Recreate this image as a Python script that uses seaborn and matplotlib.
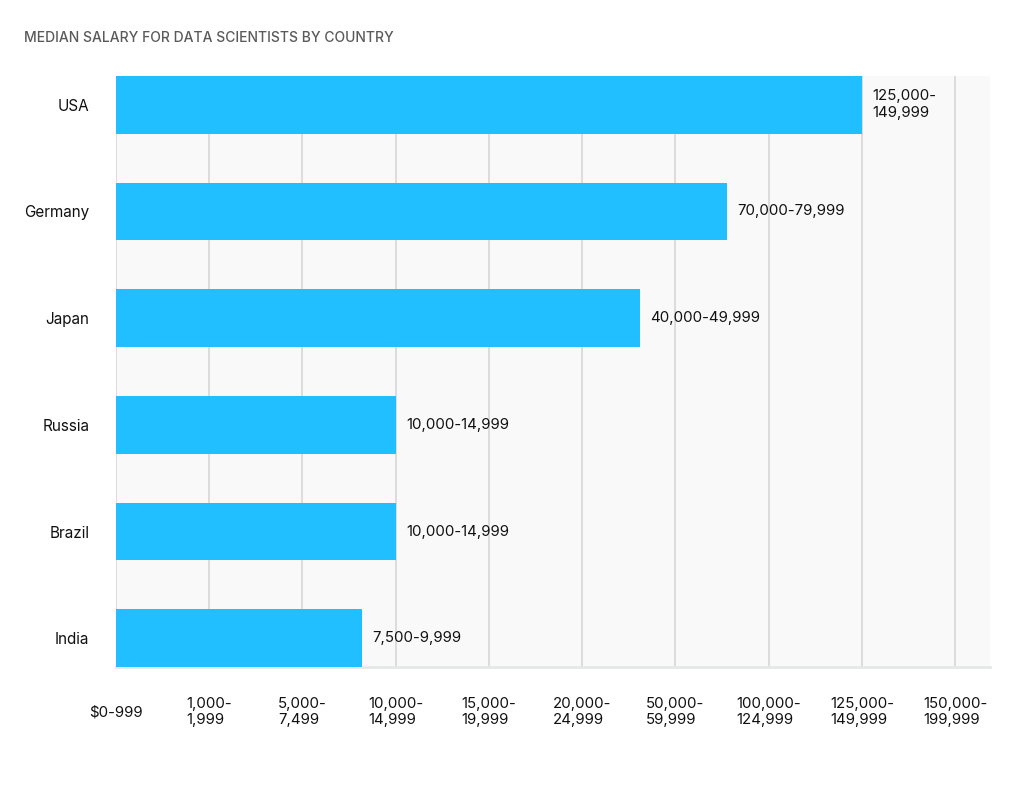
import matplotlib
matplotlib.use("Agg")
import matplotlib.pyplot as plt
import seaborn as sns
import pandas as pd

# Data: bar length is the position on the ordinal salary-bin axis
countries = ["USA", "Germany", "Japan", "Russia", "Brazil", "India"]
bin_position = [8.0, 6.55, 5.62, 3.0, 3.0, 2.64]
value_labels = ["125,000-\n149,999", "70,000-79,999", "40,000-49,999",
                "10,000-14,999", "10,000-14,999", "7,500-9,999"]
salary_bins = ["$0-999", "1,000-\n1,999", "5,000-\n7,499", "10,000-\n14,999",
               "15,000-\n19,999", "20,000-\n24,999", "50,000-\n59,999",
               "100,000-\n124,999", "125,000-\n149,999", "150,000-\n199,999"]

df = pd.DataFrame({"country": countries, "position": bin_position, "label": value_labels})

sns.set_theme(style="white")
plt.rcParams["font.family"] = ["Inter", "DejaVu Sans"]

fig = plt.figure(figsize=(10.16, 8.05), dpi=100)
ax = fig.add_axes([0.114, 0.1714, 0.86, 0.7342])
ax.set_facecolor("#f9f9f9")

sns.barplot(data=df, x="position", y="country", orient="h", color="#21bfff",
            saturation=1, width=0.54, linewidth=0, ax=ax, zorder=3)

ax.set_xlim(0, 9.37)
ax.set_ylim(5.27, -0.27)
ax.set_xticks(range(len(salary_bins)))
ax.set_xticklabels(salary_bins, fontsize=10.8, color="#111111", linespacing=1.1)
for t in ax.get_xticklabels():
    t.set_verticalalignment("center")
    t.set_multialignment("left")
ax.tick_params(axis="x", length=9.4, width=1.4, color="#dcdcdc", direction="out", pad=23)
ax.tick_params(axis="y", length=0, pad=19, labelsize=11, labelcolor="#111111")
ax.xaxis.grid(True, color="#dcdcdc", linewidth=1.4, zorder=0)
ax.set_axisbelow(True)

for s in ["top", "right", "left"]:
    ax.spines[s].set_visible(False)
ax.spines["bottom"].set_color("#e6e8e8")
ax.spines["bottom"].set_linewidth(2)
ax.set_xlabel("")
ax.set_ylabel("")

# value labels at bar ends
for i, row in df.iterrows():
    ax.annotate(row["label"], xy=(row["position"], i), xytext=(7.5, 0),
                textcoords="offset points", ha="left", va="center",
                fontsize=10.8, color="#111111", linespacing=1.3)

fig.text(24 / 1016, 1 - 38 / 805, "MEDIAN SALARY FOR DATA SCIENTISTS BY COUNTRY",
         fontsize=10, fontweight="medium", color="#5a5a5a", va="center", ha="left")

plt.savefig("out.png", dpi=100)
plt.close()
